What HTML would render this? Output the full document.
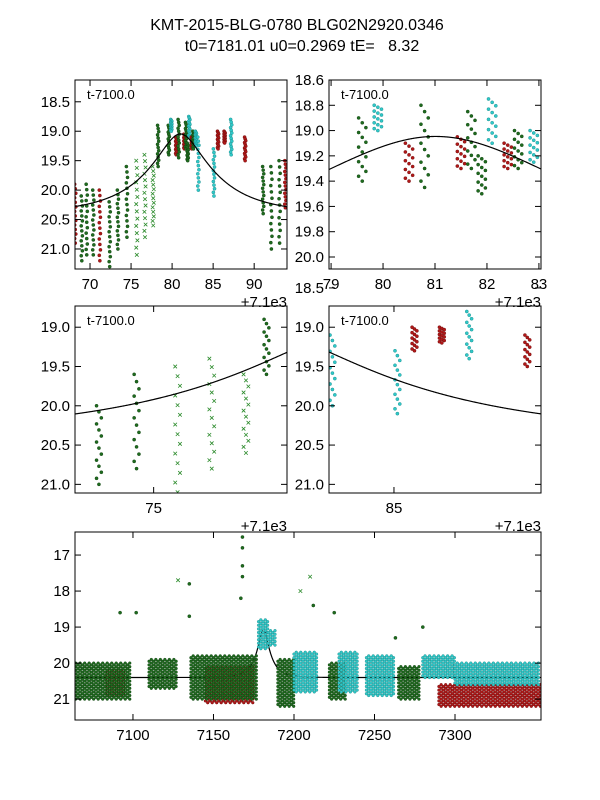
<!DOCTYPE html>
<html><head><meta charset="utf-8">
<style>
html,body{margin:0;padding:0;background:#fff;}
svg{display:block;font-family:"Liberation Sans",sans-serif;}
</style></head>
<body>
<svg id="chart" width="600" height="800" viewBox="0 0 600 800">
<text x="297" y="30" font-size="16" text-anchor="middle">KMT-2015-BLG-0780 BLG02N2920.0346</text>
<text x="302" y="51" font-size="16" text-anchor="middle" xml:space="preserve">t0=7181.01 u0=0.2969 tE=   8.32</text>
</svg>
<script>
// Zoom-panel observation clusters (t-7100, bright/faint mag range, series)
var colT   = [68.2,69.0,69.6,70.4,71.2,72.4,73.4,74.5,75.7,76.7,77.7,78.3,79.6,79.9,80.5,80.8,81.5,81.7,81.9,82.1,82.4,82.6,82.9,83.2,85.1,85.6,86.4,87.2,88.9,91.1,92.1,93.1,93.8];
var colHi  = [19.9,20.1,19.9,20.0,20.0,20.2,20.0,19.6,19.5,19.4,19.6,18.9,18.9,18.8,19.1,18.8,19.05,18.85,19.2,18.75,19.1,19.0,19.0,19.1,19.3,19.0,19.0,18.8,19.1,19.6,19.6,19.5,19.5];
var colLo  = [20.9,21.2,21.1,21.1,21.2,21.3,21.0,20.8,21.1,20.8,20.6,19.6,19.4,19.0,19.4,19.45,19.3,19.3,19.5,19.1,19.3,19.3,19.25,20.0,20.1,19.3,19.2,19.4,19.5,20.4,21.0,20.9,20.3];
var colSer = ["r","g","g","g","r","g","g","g","gx","gx","gx","g","g","c","r","g","r","g","g","c","r","g","c","c","c","r","r","c","r","g","g","g","r"];
// Full-season blocks (HJD-2450000)
var segT0  = [7063,7083,7110,7136,7145,7178,7184,7190,7200,7222,7228,7245,7265,7280,7290,7300];
var segT1  = [7098,7095,7128,7177,7175,7184,7189,7200,7215,7232,7240,7262,7278,7300,7353,7353];
var segHi  = [20.0,20.2,19.9,19.8,20.1,18.8,19.1,19.9,19.7,20.0,19.7,19.8,20.1,19.8,20.6,20.0];
var segLo  = [21.0,20.9,20.7,21.0,21.1,19.6,19.5,21.2,20.8,21.0,20.8,20.9,21.0,20.4,21.2,20.6];
var segSer = ["g","r","g","g","r","c","c","g","c","g","c","c","g","c","r","c"];
// Outliers
var outT   = [7102,7128,7135,7135,7168,7168,7168,7168,7167,7210,7204,7212,7225,7263,7280,7092];
var outM   = [18.6,17.7,17.8,18.7,16.5,16.8,17.3,17.6,18.2,17.6,18.0,18.4,18.6,19.3,19.0,18.6];
var outSer = ["g","gx","g","g","g","g","g","g","g","gx","gx","g","g","g","g","g"];
// Model parameters
var t0 = 7181.01, u0 = 0.2969, tE = 8.32, mBase = 20.40;

var NS = "http://www.w3.org/2000/svg";
var svg = document.getElementById("chart");
var COL = {g:["#1f6b1f","#0d3d0d"], r:["#b01818","#6a0a0a"], c:["#30c8c8","#1a8888"], gx:["#2a8a2a","#2a8a2a"]};
function mk(tag, attrs, parent){var e=document.createElementNS(NS,tag);for(var k in attrs)e.setAttribute(k,attrs[k]);(parent||svg).appendChild(e);return e;}
function model(t){var tau=(t-t0)/tE;var u=Math.sqrt(u0*u0+tau*tau);var A=(u*u+2)/(u*Math.sqrt(u*u+4));return mBase-2.5*Math.log10(A);}
function dot(g,x,y,s,r){
  if(s==="gx"){var d=1.8;var p=mk("path",{d:"M"+(x-d)+" "+(y-d)+"L"+(x+d)+" "+(y+d)+"M"+(x-d)+" "+(y+d)+"L"+(x+d)+" "+(y-d),stroke:COL.gx[0],"stroke-width":0.8,fill:"none"},g);
    
    return;}
  var c=mk("circle",{cx:x,cy:y,r:r||1.6,fill:COL[s][0],stroke:COL[s][1],"stroke-width":0.4},g);
  
  
}
var ORDER={r:0,gx:1,g:1,c:2};
var pid=0;
function panel(name,px,py,pw,ph,xmin,xmax,ymin,ymax,xticks,yticks,yfmt,tOff,labels,drawCols){
  pid++;
  var grp=mk("g",{});  
  var sx=function(t){return px+(t-xmin)/(xmax-xmin)*pw;};
  var sy=function(m){return py+(m-ymin)/(ymax-ymin)*ph;};
  var cp=mk("clipPath",{id:"cp"+pid},grp); mk("rect",{x:px,y:py,width:pw,height:ph},cp);
  var dg=mk("g",{"clip-path":"url(#cp"+pid+")"},grp);
   
  var d="";for(var j=0;j<=400;j++){var t=xmin+(xmax-xmin)*j/400;d+=(j?"L":"M")+sx(t).toFixed(2)+" "+sy(model(t+tOff)).toFixed(2);}
  function drawCurve(){var ln=mk("path",{d:d,stroke:"#000","stroke-width":1.2,fill:"none"},dg);
     }
  if(drawCols){
    for(var i=0;i<colT.length;i++){
      var n=14;
      for(var k=0;k<n;k++){
        var m=colHi[i]+(colLo[i]-colHi[i])*k/(n-1);
        var t=colT[i]+((k%3)-1)*0.07;
        dot(dg,sx(t),sy(m),colSer[i]);
      }
    }
    drawCurve();
  } else {
    drawCurve();
    var idx=[];for(var i=0;i<segT0.length;i++)idx.push(i);
    idx.sort(function(a,b){return ORDER[segSer[a]]-ORDER[segSer[b]];});
    idx.forEach(function(i){
      var row=0;
      for(var t=segT0[i];t<=segT1[i];t+=1.4){
        var y0=sy(segHi[i]),y1=sy(segLo[i]);row++;
        for(var y=y0+(row%2)*1.8;y<=y1;y+=3.6){dot(dg,sx(t),y,segSer[i],1.4);}
      }
    });
    for(var i=0;i<outT.length;i++) dot(dg,sx(outT[i]),sy(outM[i]),outSer[i]);
  }
  var fr=mk("rect",{x:px,y:py,width:pw,height:ph,fill:"none",stroke:"#000","stroke-width":1},grp);
   
  xticks.forEach(function(v){var x=sx(v);
    mk("line",{x1:x,y1:py+ph,x2:x,y2:py+ph-6,stroke:"#000"},grp);mk("line",{x1:x,y1:py,x2:x,y2:py+6,stroke:"#000"},grp);
    var tx=mk("text",{x:x,y:py+ph+20,"font-size":15,"text-anchor":"middle"},grp);
    tx.textContent = String(v);
     });
  yticks.forEach(function(v){var y=sy(v);
    mk("line",{x1:px,y1:y,x2:px+6,y2:y,stroke:"#000"},grp);mk("line",{x1:px+pw,y1:y,x2:px+pw-6,y2:y,stroke:"#000"},grp);
    var tx=mk("text",{x:px-5,y:y+5,"font-size":15,"text-anchor":"end"},grp);tx.textContent=v.toFixed(yfmt);
     });
  if(labels){var ot=mk("text",{x:px+pw,y:py+ph+38,"font-size":15,"text-anchor":"end"},grp);ot.textContent="+7.1e3";
     
    var lb=mk("text",{x:px+12,y:py+19,"font-size":13},grp);lb.textContent="t-7100.0";
     }
  return grp;
}
panel("panel-top-left",75,80,212,189,68.17,94.0,18.13,21.34,[70,75,80,85,90],[18.5,19.0,19.5,20.0,20.5,21.0],1,7100,true,true);
panel("panel-top-right",329,80,212,189,78.96,83.04,18.6,20.095,[79,80,81,82,83],[18.6,18.8,19.0,19.2,19.4,19.6,19.8,20.0],1,7100,true,true);
panel("panel-mid-left",75,306,212,187,72.7,78.9,18.73,21.11,[75],[19.0,19.5,20.0,20.5,21.0],1,7100,true,true);
panel("panel-mid-right",329,306,212,187,83.1,89.3,18.73,21.11,[85],[18.5,19.0,19.5,20.0,20.5,21.0],1,7100,true,true);
panel("panel-full-season",75,532,466,188,7064,7353.4,16.36,21.58,[7100,7150,7200,7250,7300],[17,18,19,20,21],0,0,false,false);
</script>
</body></html>
